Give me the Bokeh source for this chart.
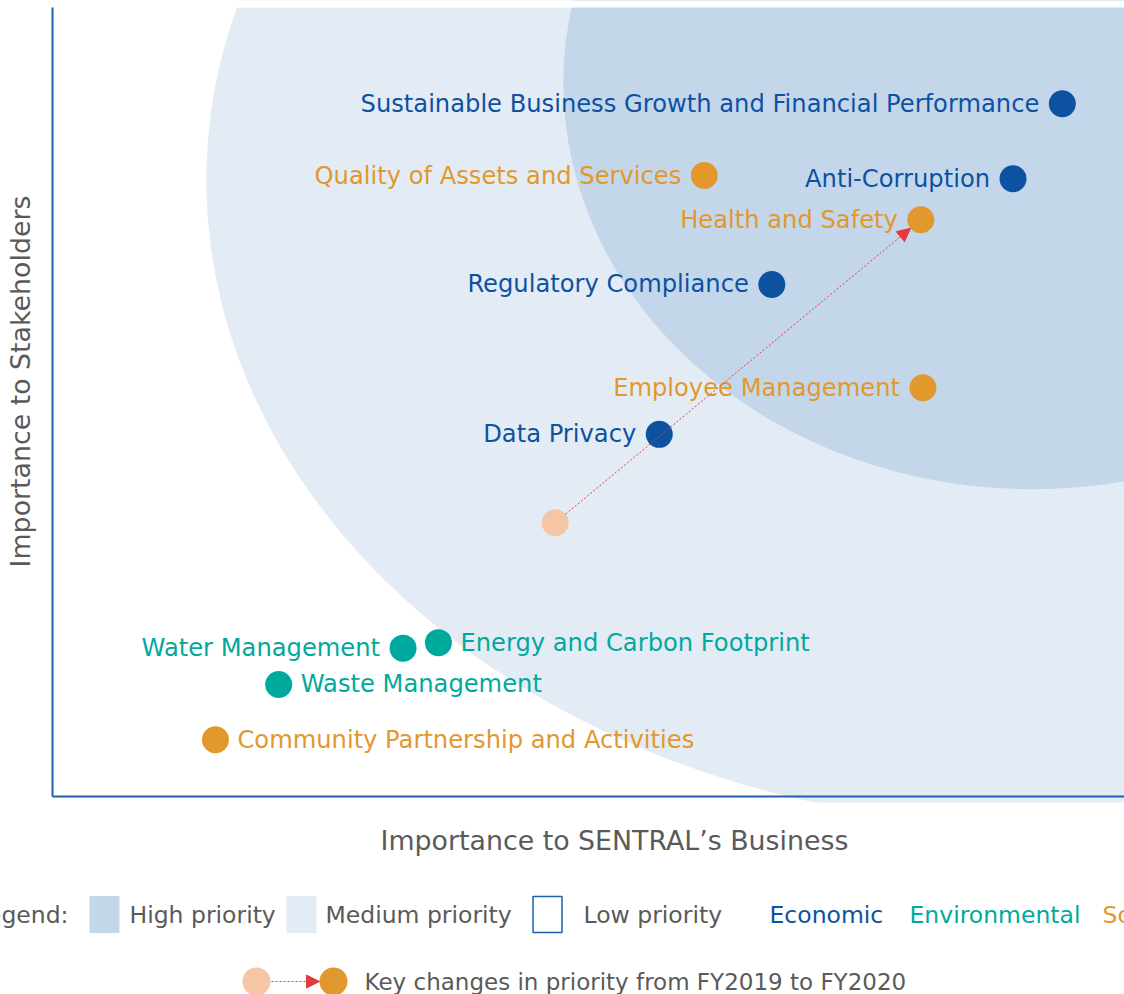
import math
from bokeh.plotting import figure
from bokeh.models import Range1d, FixedTicker, LinearAxis, Arrow, NormalHead, ColumnDataSource
from bokeh.core.properties import value
from bokeh.embed import file_html
from bokeh.resources import INLINE

# ---------------- data ----------------
topics = [
    "Sustainable Business Growth and Financial Performance",
    "Quality of Assets and Services",
    "Anti-Corruption",
    "Health and Safety",
    "Regulatory Compliance",
    "Employee Management",
    "Data Privacy",
    "Water Management",
    "Energy and Carbon Footprint",
    "Waste Management",
    "Community Partnership and Activities",
]
business = [9.42, 6.08, 8.96, 8.10, 6.71, 8.12, 5.66, 3.27, 3.60, 2.11, 1.52]
stakeholders = [8.78, 7.87, 7.83, 7.31, 6.49, 5.18, 4.59, 1.88, 1.95, 1.42, 0.72]
category = ["Economic", "Social", "Economic", "Social", "Economic", "Social",
            "Economic", "Environmental", "Environmental", "Environmental", "Social"]
labels_on_right = ["Energy and Carbon Footprint", "Waste Management",
                   "Community Partnership and Activities"]

# key change FY2019 -> FY2020
change_topic = "Health and Safety"
prev_business = 4.69
prev_stakeholders = 3.47

# priority zones (ellipses)
zone_names = ["Medium priority", "High priority"]
zone_x = [9.18, 9.14]
zone_y = [7.81, 9.04]
zone_w = [15.49, 8.75]
zone_h = [16.38, 10.29]

legend_zones = ["High priority", "Medium priority", "Low priority"]
legend_categories = ["Economic", "Environmental", "Social"]
x_title = "Importance to SENTRAL\u2019s Business"
y_title = "Importance to Stakeholders"
change_note = "Key changes in priority from FY2019 to FY2020"

# ---------------- styles / geometry ----------------
cat_color = {"Economic": "#0d51a1", "Environmental": "#00a99d", "Social": "#e1982d"}
zone_color = {"Medium priority": "#e3ecf5", "High priority": "#c4d7ea"}
peach = "#f5c6a6"
arrow_red = "#e53a3c"
axis_blue = "#1f5fb0"
gray = "#5a5a5a"
FONT = value("DejaVu Sans")

W, H = 1124, 994
CL, CR, CT, CB = 52, 1124, 7, 796      # chart area in pixels
kx = (CR - CL) / 10.0
ky = (CB - CT) / 10.0


def X(px):
    return (px - CL) / kx


def Y(py):
    return (CB - py) / ky


p = figure(width=W, height=H, x_range=Range1d(X(0), X(W)), y_range=Range1d(Y(H), Y(0)),
           min_border=0, toolbar_location=None, output_backend="svg",
           x_axis_location=None, y_axis_location=None)
p.outline_line_color = None
p.grid.visible = False
p.background_fill_color = "white"
p.border_fill_color = "white"

for loc in ("below", "left"):
    ax = LinearAxis(fixed_location=0, bounds=(0, 10), ticker=FixedTicker(ticks=[]),
                    axis_line_color=axis_blue, axis_line_width=2,
                    major_tick_line_color=None, minor_tick_line_color=None,
                    major_label_text_font_size="0px")
    p.add_layout(ax, loc)

# zones
p.ellipse(x=zone_x, y=zone_y, width=zone_w, height=zone_h,
          fill_color=[zone_color[n] for n in zone_names], line_color=None)
# keep zones inside the chart area (top strip and below the axis)
p.quad(left=[X(0), X(0)], right=[X(W), X(W)], bottom=[Y(H), Y(CT)], top=[Y(CB + 6), Y(0)],
       fill_color="white", line_color=None)

# arrow for key change
ix = topics.index(change_topic)
dxp = (business[ix] - prev_business) * kx
dyp = (stakeholders[ix] - prev_stakeholders) * ky
L = math.hypot(dxp, dyp)
ux, uy = dxp / L, dyp / L
r = 13.5
p.add_layout(Arrow(x_start=prev_business + ux * r / kx, y_start=prev_stakeholders + uy * r / ky,
                   x_end=business[ix] - ux * r / kx, y_end=stakeholders[ix] - uy * r / ky,
                   line_color=arrow_red, line_width=1, line_dash="2 2",
                   end=NormalHead(size=13, fill_color=arrow_red, line_color=arrow_red, line_width=1)))

# previous position dot
p.scatter([prev_business], [prev_stakeholders], size=27, fill_color=peach, line_color=None)

# topic dots
src = ColumnDataSource(dict(x=business, y=stakeholders, t=topics,
                            c=[cat_color[c] for c in category]))
p.scatter("x", "y", source=src, size=27, fill_color="c", line_color=None)

left_idx = [i for i, t in enumerate(topics) if t not in labels_on_right]
right_idx = [i for i, t in enumerate(topics) if t in labels_on_right]
for idx, align, off in ((left_idx, "right", -23), (right_idx, "left", 22)):
    s = ColumnDataSource(dict(x=[business[i] for i in idx], y=[stakeholders[i] for i in idx],
                              t=[topics[i] for i in idx],
                              c=[cat_color[category[i]] for i in idx]))
    p.text("x", "y", text="t", source=s, text_color="c", text_font=FONT,
           text_font_size="24.2px", text_align=align, text_baseline="middle", x_offset=off)

# axis titles
p.text(x=[X(614)], y=[Y(840)], text=[x_title], text_font=FONT, text_font_size="26.8px",
       text_color=gray, text_align="center", text_baseline="middle")
p.text(x=[X(20)], y=[Y(381)], text=[y_title], angle=math.pi / 2, text_font=FONT,
       text_font_size="26.8px", text_color=gray, text_align="center", text_baseline="middle")

# ---------------- legend ----------------
r1 = Y(914)
p.rect(x=[X(104), X(301)], y=[r1, r1], width=30, height=37, width_units="screen",
       height_units="screen",
       fill_color=[zone_color["High priority"], zone_color["Medium priority"]], line_color=None)
p.rect(x=[X(547)], y=[r1], width=29, height=36, width_units="screen", height_units="screen",
       fill_color="white", line_color=axis_blue, line_width=1.5)
p.text(x=[X(68)], y=[r1], text=["Legend:"], text_color=gray, text_font=FONT,
       text_font_size="23.5px", text_align="right", text_baseline="middle")
p.text(x=[X(129), X(325), X(583), X(769), X(909), X(1102)], y=[r1] * 6,
       text=legend_zones + legend_categories,
       text_color=[gray, gray, gray] + [cat_color[c] for c in legend_categories],
       text_font=FONT, text_font_size="23.5px", text_align="left", text_baseline="middle")
r2 = Y(981)
p.add_layout(Arrow(x_start=X(271), y_start=r2, x_end=X(319), y_end=r2, line_color=arrow_red,
                   line_width=1, line_dash="2 2",
                   end=NormalHead(size=13, fill_color=arrow_red, line_color=arrow_red, line_width=1)))
p.scatter([X(256)], [r2], size=28, fill_color=peach, line_color=None)
p.scatter([X(333)], [r2], size=28, fill_color=cat_color["Social"], line_color=None)
p.text(x=[X(364)], y=[r2], text=[change_note], text_color=gray,
       text_font=FONT, text_font_size="23px", text_align="left", text_baseline="middle")

open("out.html", "w").write(file_html(p, INLINE))
